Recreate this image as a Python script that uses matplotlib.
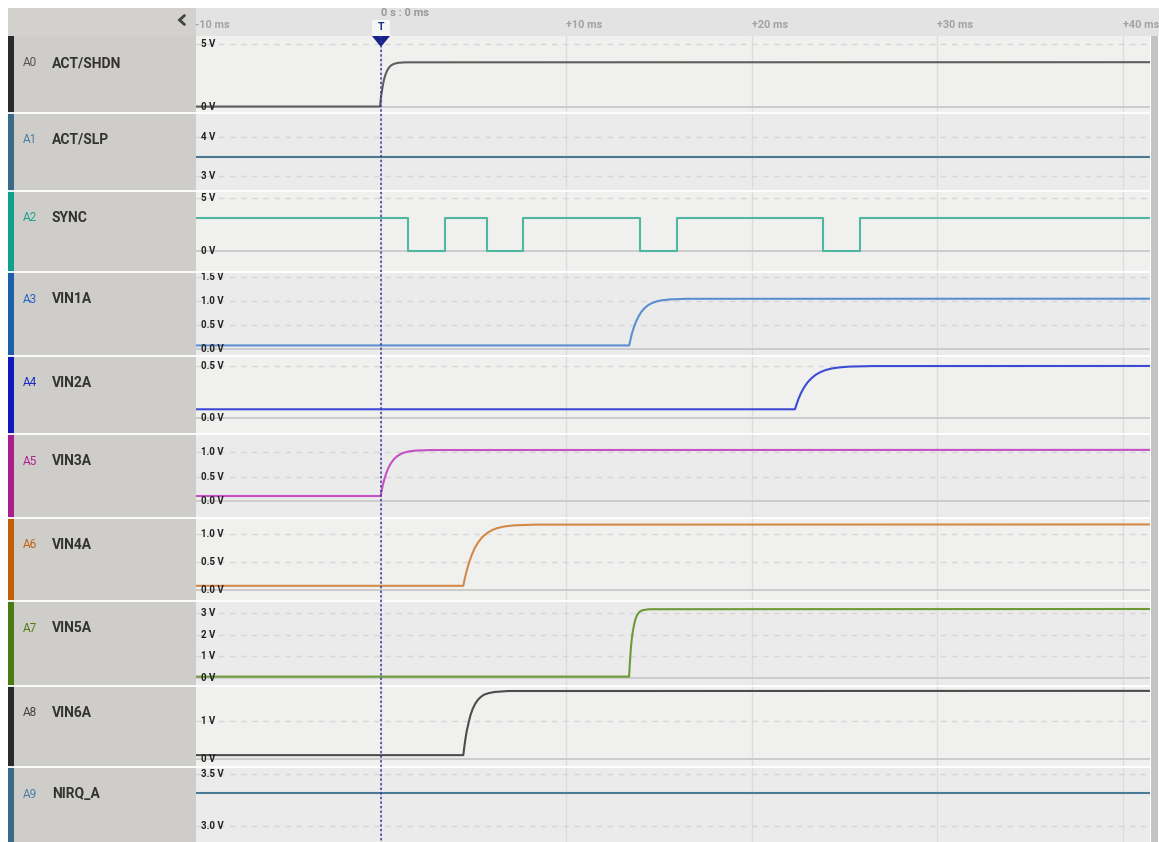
import matplotlib
matplotlib.use('Agg')
import matplotlib.pyplot as plt
from matplotlib.patches import Rectangle, Polygon

plt.rcParams['font.family'] = ['Roboto', 'DejaVu Sans']

# ---------------- data ----------------
channel_ids = ['A0', 'A1', 'A2', 'A3', 'A4', 'A5', 'A6', 'A7', 'A8', 'A9']
channel_names = ['ACT/SHDN', 'ACT/SLP', 'SYNC', 'VIN1A', 'VIN2A',
                 'VIN3A', 'VIN4A', 'VIN5A', 'VIN6A', 'NIRQ_A']

time_tick_values = [-10, 10, 20, 30, 40]
time_tick_labels = ['-10 ms', '+10 ms', '+20 ms', '+30 ms', '+40 ms']
grid_time_values = [0, 10, 20, 30, 40]
trigger_time = 0
trigger_label = '0 s : 0 ms'

ytick_values = [
    [0, 5], [3, 4], [0, 5], [0.0, 0.5, 1.0, 1.5], [0.0, 0.5],
    [0.0, 0.5, 1.0], [0.0, 0.5, 1.0], [0, 1, 2, 3], [0, 1], [3.0, 3.5],
]
ytick_labels = [
    ['0 V', '5 V'], ['3 V', '4 V'], ['0 V', '5 V'],
    ['0.0 V', '0.5 V', '1.0 V', '1.5 V'], ['0.0 V', '0.5 V'],
    ['0.0 V', '0.5 V', '1.0 V'], ['0.0 V', '0.5 V', '1.0 V'],
    ['0 V', '1 V', '2 V', '3 V'], ['0 V', '1 V'], ['3.0 V', '3.5 V'],
]

act_shdn_t = [-10, -0.05, -0.02, 0.01, 0.06, 0.11, 0.17, 0.24, 0.32, 0.40,
              0.49, 0.59, 0.73, 0.92, 1.33, 41.5]
act_shdn_v = [0.0, 0.0, 0.42, 0.84, 1.30, 1.75, 2.17, 2.51, 2.81, 3.02,
              3.19, 3.31, 3.40, 3.47, 3.51, 3.52]

act_slp_t = [-10, 41.5]
act_slp_v = [3.49, 3.49]

sync_t = [-10, 1.47, 1.47, 3.45, 3.45, 5.70, 5.70, 7.67, 7.67,
          13.96, 13.96, 15.94, 15.94, 23.83, 23.83, 25.82, 25.82, 41.5]
sync_v = [3.15, 3.15, 0.0, 0.0, 3.15, 3.15, 0.0, 0.0, 3.15,
          3.15, 0.0, 0.0, 3.15, 3.15, 0.0, 0.0, 3.15, 3.15]

vin1a_t = [-10, 13.38, 13.45, 13.52, 13.62, 13.74, 13.88, 14.03, 14.21,
           14.39, 14.60, 14.84, 15.15, 15.56, 16.50, 41.5]
vin1a_v = [0.08, 0.08, 0.194, 0.313, 0.438, 0.563, 0.678, 0.772, 0.854,
           0.912, 0.958, 0.991, 1.018, 1.035, 1.048, 1.05]

vin2a_t = [-10, 22.32, 22.41, 22.51, 22.64, 22.80, 22.99, 23.20, 23.44,
           23.69, 23.97, 24.28, 24.70, 25.26, 26.52, 41.5]
vin2a_v = [0.086, 0.086, 0.135, 0.185, 0.239, 0.292, 0.341, 0.381, 0.416,
           0.441, 0.461, 0.475, 0.486, 0.494, 0.499, 0.50]

vin3a_t = [-10, -0.02, 0.04, 0.10, 0.19, 0.29, 0.41, 0.54, 0.70,
           0.86, 1.04, 1.24, 1.51, 1.87, 2.68, 41.5]
vin3a_v = [0.097, 0.097, 0.209, 0.326, 0.449, 0.572, 0.685, 0.776, 0.858,
           0.915, 0.959, 0.992, 1.019, 1.036, 1.047, 1.05]

vin4a_t = [-10, 4.44, 4.52, 4.62, 4.74, 4.89, 5.06, 5.25, 5.48,
           5.71, 5.97, 6.26, 6.65, 7.17, 8.34, 41.5]
vin4a_v = [0.08, 0.08, 0.209, 0.342, 0.482, 0.623, 0.753, 0.857, 0.950,
           1.015, 1.066, 1.104, 1.134, 1.154, 1.167, 1.17]

vin5a_t = [-10, 13.38, 13.40, 13.43, 13.46, 13.50, 13.55, 13.61, 13.67,
           13.73, 13.80, 13.88, 13.99, 14.14, 14.46, 41.5]
vin5a_v = [0.05, 0.05, 0.42, 0.81, 1.21, 1.62, 1.99, 2.30, 2.56,
           2.75, 2.90, 3.01, 3.10, 3.15, 3.19, 3.20]

vin6a_t = [-10, 4.44, 4.49, 4.55, 4.62, 4.72, 4.82, 4.94, 5.08,
           5.22, 5.38, 5.56, 5.80, 6.12, 6.84, 41.5]
vin6a_v = [0.09, 0.09, 0.29, 0.50, 0.71, 0.93, 1.13, 1.30, 1.44,
           1.54, 1.62, 1.68, 1.72, 1.75, 1.776, 1.78]

nirq_a_t = [-10, 41.5]
nirq_a_v = [3.32, 3.32]

waveforms_t = [act_shdn_t, act_slp_t, sync_t, vin1a_t, vin2a_t,
               vin3a_t, vin4a_t, vin5a_t, vin6a_t, nirq_a_t]
waveforms_v = [act_shdn_v, act_slp_v, sync_v, vin1a_v, vin2a_v,
               vin3a_v, vin4a_v, vin5a_v, vin6a_v, nirq_a_v]

# ---------------- style / layout ----------------
W, H = 1159, 842
line_colors = ['#5e5e5e', '#4a7890', '#4fb7a0', '#5a8fd2', '#3d4ad6',
               '#c452c2', '#d38a48', '#6c9a38', '#4c4c4c', '#4a7a95']
strip_colors = ['#2a2a2a', '#3a6a85', '#13a08a', '#1f5ea8', '#1118b8',
                '#a81e8e', '#c25e0a', '#4a7a12', '#2a2a2a', '#3a6a85']
id_colors = ['#555555', '#4a80a2', '#1fa08e', '#2462c0', '#1a2ac0',
             '#b0228f', '#c26212', '#4d7c14', '#444444', '#4a80a2']
row_bg = ['#f0f0ef', '#ebebeb'] * 5
row_bounds = [36, 112.7, 190.7, 272.3, 355.7, 434.3, 517.7, 601, 686, 767.3, 842]
ylims = [(-0.49, 5.6), (2.615, 4.615), (-2.01, 5.69), (-0.133, 1.598),
         (-0.153, 0.598), (-0.351, 1.372), (-0.19, 1.29), (-0.387, 3.573),
         (-0.23, 1.908), (2.845, 3.568)]
plot_x0, plot_x1 = 196, 1150
xlim = (-9.97, 41.46)
ms_per_px = (xlim[1] - xlim[0]) / (plot_x1 - plot_x0)

fig = plt.figure(figsize=(W / 100, H / 100), dpi=100)
fig.patch.set_facecolor('white')


def fig_rect(x0, y0, x1, y1):
    return [x0 / W, 1 - y1 / H, (x1 - x0) / W, (y1 - y0) / H]


# background (pixel coords)
bg = fig.add_axes([0, 0, 1, 1], zorder=0)
bg.set_xlim(0, W)
bg.set_ylim(H, 0)
bg.axis('off')
bg.add_patch(Rectangle((8, 8), 188, 28, fc='#d3d1ce', ec='none'))
bg.add_patch(Rectangle((196, 8), W - 196, 28, fc='#e3e3e3', ec='none'))
bg.add_patch(Rectangle((8, 36), 188, H - 36, fc='#cfcdca', ec='none'))
bg.add_patch(Rectangle((1151, 36), 7, H - 36, fc='#c3c3c3', ec='none'))
bg.plot([184.5, 179.5, 184.5], [15.5, 20, 24.5], color='#444444', lw=2.0,
        solid_capstyle='round', solid_joinstyle='miter')

for i in range(10):
    top, bot = row_bounds[i], row_bounds[i + 1]
    bg.add_patch(Rectangle((8, top), 6, bot - top, fc=strip_colors[i], ec='none'))
    bg.text(23, top + 27, channel_ids[i], fontsize=8.5, color=id_colors[i],
            ha='left', va='center')
    bg.text(52, top + 27, channel_names[i], fontsize=10, fontweight='bold',
            color='#333333', ha='left', va='center')

# signal rows
for i in range(10):
    top, bot = row_bounds[i], row_bounds[i + 1]
    ax = fig.add_axes(fig_rect(plot_x0, top, plot_x1, bot), zorder=1)
    ax.set_facecolor(row_bg[i])
    ax.set_xlim(*xlim)
    ax.set_ylim(*ylims[i])
    for s in ax.spines.values():
        s.set_visible(False)
    ax.set_xticks([])
    ax.set_yticks([])
    for gt in grid_time_values:
        ax.axvline(gt, color='#dcdcdc', lw=1.0, zorder=1)
    for val, lab in zip(ytick_values[i], ytick_labels[i]):
        if val == 0:
            ax.axhline(val, color='#c9c9c9', lw=1.3, zorder=1)
        else:
            ax.axhline(val, color='#d6d6d6', lw=1.0, ls=(0, (4, 4)), zorder=1)
        ax.text(0.005, val, lab, transform=ax.get_yaxis_transform(),
                fontsize=7, fontweight='bold', color='#222222',
                ha='left', va='center', zorder=4)
    ax.plot(waveforms_t[i], waveforms_v[i], color=line_colors[i], lw=1.5,
            zorder=3, solid_joinstyle='round')

# separators (pixel coords)
sep = fig.add_axes([0, 0, 1, 1], zorder=2)
sep.set_xlim(0, W)
sep.set_ylim(H, 0)
sep.axis('off')
sep.patch.set_alpha(0)
for yb in row_bounds[1:-1]:
    sep.plot([8, 1150], [yb, yb], color='white', lw=1.3, solid_capstyle='butt')

# trigger overlay (data x, pixel y)
tr = fig.add_axes(fig_rect(plot_x0, 0, plot_x1, H), zorder=3)
tr.set_xlim(*xlim)
tr.set_ylim(H, 0)
tr.axis('off')
tr.patch.set_alpha(0)
half = 9 * ms_per_px
tr.plot([trigger_time, trigger_time], [36, H], color='#3636a8', lw=1.1,
        ls=(0, (1.5, 1.5)))
tr.add_patch(Rectangle((trigger_time - half, 20), 2 * half, 16,
                       fc='#f6f6f6', ec='none'))
tr.add_patch(Polygon([(trigger_time - half, 36), (trigger_time + half, 36),
                      (trigger_time, 47)], closed=True, fc='#17258a', ec='none'))
tr.text(trigger_time, 27.5, 'T', fontsize=7.5, fontweight='bold',
        color='#17258a', ha='center', va='center')
tr.text(trigger_time, 13, trigger_label, fontsize=8, fontweight='bold',
        color='#999999', ha='left', va='center')
for tv, tl in zip(time_tick_values, time_tick_labels):
    tr.text(tv, 25, tl, fontsize=7.8, fontweight='bold', color='#a2a2a2',
            ha='left', va='center')

fig.savefig('out.png', dpi=100)
